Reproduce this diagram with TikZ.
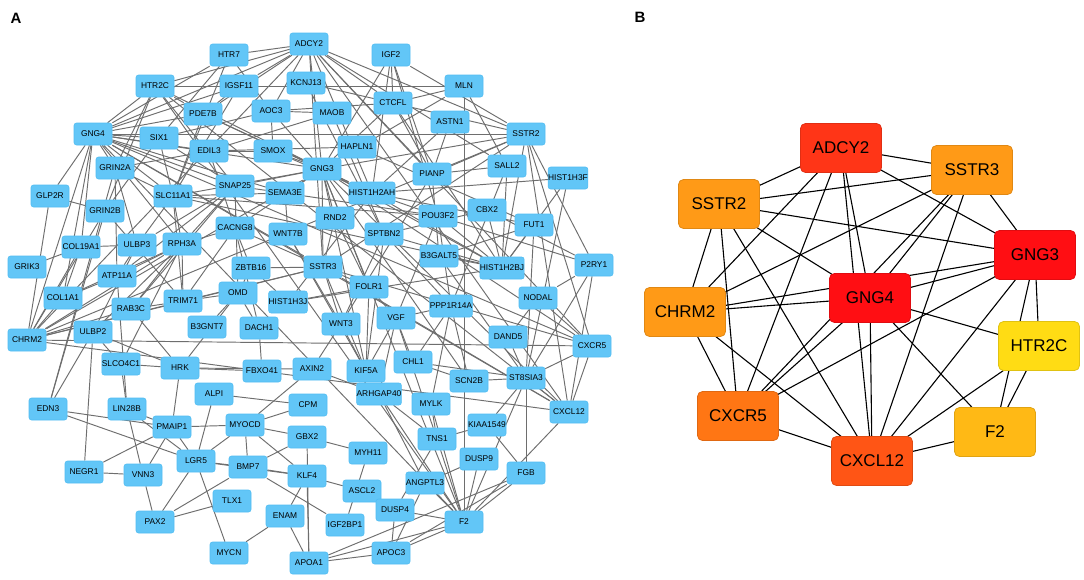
\documentclass[tikz,border=0pt]{standalone}
\usepackage{fontspec}
\setmainfont{Liberation Sans}
\pgfdeclarelayer{bg}
\pgfdeclarelayer{paper}
\pgfsetlayers{paper,bg,main}
\definecolor{anodefill}{HTML}{62C6F7}
\definecolor{anodedraw}{HTML}{52BDF2}
\definecolor{aedgecol}{HTML}{6E6E6E}
\definecolor{cA}{HTML}{FF3517}
\definecolor{cO}{HTML}{FF9A17}
\definecolor{cR}{HTML}{FF0E13}
\definecolor{cY}{HTML}{FFDC14}
\definecolor{cX}{HTML}{FF7614}
\definecolor{cF}{HTML}{FFB915}
\definecolor{cL}{HTML}{FF5515}
\tikzset{
  anode/.style={rectangle, rounded corners=2.5pt, fill=anodefill, draw=anodedraw, line width=0.6pt,
    minimum width=38pt, minimum height=22pt, inner sep=0pt, font=\fontsize{8.4}{10}\selectfont},
  bnode/.style={rectangle, rounded corners=5pt, line width=0.8pt,
    minimum width=81pt, minimum height=49pt, inner sep=0pt, font=\fontsize{17}{20}\selectfont},
  aedge/.style={draw=aedgecol, line width=0.95pt},
  bedge/.style={draw=black, line width=1.1pt},
  plabel/.style={font=\bfseries\fontsize{15}{17}\selectfont}
}
\begin{document}
\begin{tikzpicture}[x=1pt,y=-1pt]
\useasboundingbox (0,0) rectangle (1084,579);
\begin{pgfonlayer}{paper}
\fill[white] (0,0) rectangle (1084,579);
\end{pgfonlayer}
\node[plabel] (labA) at (16,18) {A};
\node[plabel] (labB) at (640,17) {B};
% ---------------- Panel A nodes
\foreach \n/\x/\y in {
HTR7/229/55, ADCY2/309/44, IGF2/391/55, HTR2C/155/86, IGSF11/239/86, KCNJ13/306/83, MLN/464/86,
PDE7B/203/114, AOC3/271/111, MAOB/332/113, CTCFL/393/103, ASTN1/450/122, SSTR2/526/134,
GNG4/93/134, SIX1/159/138, EDIL3/209/151, SMOX/273/151, HAPLN1/357/147, GNG3/322/169,
SALL2/507/166, HIST1H3F/568/178, GRIN2A/115/168, SNAP25/235/186, SEMA3E/285/193,
HIST1H2AH/372/193, PIANP/432/174, GLP2R/50/196, SLC11A1/173/196, CACNG8/235/228,
RND2/335/218, POU3F2/438/216, CBX2/487/210, FUT1/534/225, GRIN2B/105/211, WNT7B/288/234,
SPTBN2/384/234, COL19A1/81/247, ULBP3/137/245, RPH3A/182/244, B3GALT5/439/256,
HIST1H2BJ/502/268, P2RY1/594/265, GRIK3/27/267, ATP11A/117/276, ZBTB16/251/268,
SSTR3/323/267, FOLR1/369/287, COL1A1/63/298, RAB3C/131/309, TRIM71/183/301, OMD/238/293,
HIST1H3J/288/302, PPP1R14A/451/306, NODAL/538/298, B3GNT7/207/327, DACH1/259/328,
WNT3/341/324, VGF/396/318, DAND5/508/337, CHRM2/27/340, ULBP2/93/332, CXCR5/592/346,
SLCO4C1/121/364, HRK/180/368, FBXO41/262/371, AXIN2/312/369, KIF5A/366/371, CHL1/413/362,
SCN2B/469/381, ST8SIA3/526/378, EDN3/48/409, LIN28B/127/409, ALPI/214/394, CPM/308/405,
ARHGAP40/379/394, MYLK/431/404, CXCL12/569/412, PMAIP1/172/427, MYOCD/245/425,
KIAA1549/487/425, TNS1/437/439, GBX2/307/437, MYH11/368/453, NEGR1/84/472, VNN3/143/475,
LGR5/196/461, BMP7/248/467, KLF4/307/476, DUSP9/479/459, FGB/526/473, ASCL2/362/491,
ANGPTL3/425/483, TLX1/232/501, ENAM/285/516, IGF2BP1/345/525, DUSP4/395/510, PAX2/155/522,
F2/464/522, MYCN/229/553, APOA1/309/563, APOC3/391/553}
{ \node[anode] (a\n) at (\x,\y) {\n}; }
% ---------------- Panel A edges
\begin{pgfonlayer}{bg}
\foreach \u/\v in {
ADCY2/SSTR3, ADCY2/SSTR2, ADCY2/GNG3, ADCY2/GNG4, ADCY2/CXCL12, ADCY2/CHRM2, ADCY2/CXCR5,
SSTR2/SSTR3, SSTR2/GNG3, SSTR2/GNG4, SSTR2/CHRM2, SSTR2/CXCR5, SSTR2/CXCL12, SSTR3/CHRM2,
SSTR3/GNG4, SSTR3/CXCR5, SSTR3/CXCL12, SSTR3/GNG3, GNG3/GNG4, GNG3/CHRM2, GNG3/CXCR5,
GNG3/CXCL12, GNG3/HTR2C, GNG3/F2, HTR2C/F2, GNG4/HTR2C, GNG4/F2, GNG4/CXCR5, GNG4/CXCL12,
GNG4/CHRM2, CHRM2/CXCR5, CHRM2/CXCL12, CXCR5/CXCL12, CXCL12/F2, CXCL12/HTR2C,
HTR2C/MLN, HTR2C/GRIN2A, HTR2C/GRIN2B, HTR2C/PDE7B, HTR2C/SNAP25, HTR2C/ADCY2,
HTR7/ADCY2, HTR7/GNG4, HTR7/AOC3, HTR7/SIX1, HTR7/SLC11A1,
ADCY2/IGSF11, ADCY2/PDE7B, ADCY2/AOC3, ADCY2/HIST1H2AH, ADCY2/CTCFL, ADCY2/PIANP, ADCY2/SALL2,
IGF2/CTCFL, IGF2/PIANP, IGF2/SSTR2, IGF2/HIST1H2AH, IGF2/GNG3, IGF2/POU3F2,
IGSF11/GNG4, IGSF11/PDE7B, IGSF11/SLC11A1, KCNJ13/CTCFL, KCNJ13/SPTBN2,
MLN/CTCFL, MLN/SALL2, MLN/GNG3, MLN/F2,
PDE7B/GNG3, PDE7B/HIST1H2AH, PDE7B/SLC11A1, PDE7B/GNG4,
AOC3/MAOB, AOC3/SMOX, AOC3/GNG3, AOC3/CTCFL, AOC3/SIX1, MAOB/SPTBN2, MAOB/EDIL3,
CTCFL/SSTR2, CTCFL/GNG3, CTCFL/HIST1H2BJ, CTCFL/PIANP, ASTN1/PIANP, ASTN1/HIST1H2AH,
SSTR2/PIANP, SSTR2/P2RY1, SSTR2/HIST1H2BJ,
GNG4/SIX1, GNG4/EDIL3, GNG4/SLC11A1, GNG4/SNAP25, GNG4/GLP2R, GNG4/COL19A1, GNG4/GRIN2A,
GNG4/COL1A1, GNG4/SEMA3E, GNG4/RPH3A,
SIX1/SLC11A1, SIX1/GRIN2B, SIX1/SNAP25, EDIL3/SMOX, EDIL3/HAPLN1, EDIL3/GRIN2A, EDIL3/CACNG8,
SMOX/GNG3, SMOX/HIST1H2AH, HAPLN1/SEMA3E, HAPLN1/FUT1,
GNG3/SNAP25, GNG3/RND2, GNG3/HIST1H2BJ, GNG3/KIF5A, GNG3/SCN2B, GNG3/SEMA3E, GNG3/HIST1H2AH,
GNG3/SLC11A1, GNG3/CACNG8, GNG3/FOLR1,
SALL2/HIST1H2BJ, SALL2/PPP1R14A, SALL2/PIANP,
HIST1H3F/HIST1H2AH, HIST1H3F/HIST1H2BJ, HIST1H3F/ST8SIA3,
GRIN2A/SLC11A1, GRIN2A/ULBP3, GRIN2A/EDN3, GRIN2A/ATP11A,
SNAP25/RPH3A, SNAP25/CACNG8, SNAP25/ATP11A, SNAP25/RAB3C, SNAP25/ULBP3, SNAP25/SEMA3E, SNAP25/OMD,
SEMA3E/SLC11A1, SEMA3E/POU3F2, SEMA3E/WNT7B,
HIST1H2AH/HIST1H2BJ, HIST1H2AH/HIST1H3J, HIST1H2AH/POU3F2, HIST1H2AH/FUT1,
PIANP/WNT3, PIANP/B3GALT5, GLP2R/CHRM2, GLP2R/GRIN2B,
SLC11A1/ULBP3, SLC11A1/RPH3A, SLC11A1/TRIM71, SLC11A1/HIST1H2BJ, SLC11A1/POU3F2,
CACNG8/RPH3A, CACNG8/DACH1, CACNG8/SSTR3, CACNG8/TRIM71,
RND2/SSTR3, RND2/FOLR1, POU3F2/P2RY1, POU3F2/HIST1H2BJ, POU3F2/PPP1R14A, POU3F2/VGF,
CBX2/HIST1H2BJ, CBX2/P2RY1, CBX2/SPTBN2, FUT1/HIST1H2BJ, FUT1/B3GALT5, FUT1/ST8SIA3,
GRIN2B/TRIM71, GRIN2B/EDN3, GRIN2B/CHRM2, WNT7B/WNT3, WNT7B/KIF5A,
SPTBN2/KIF5A, SPTBN2/PPP1R14A, SPTBN2/WNT3, SPTBN2/HIST1H2BJ,
COL19A1/GRIK3, COL19A1/COL1A1, COL19A1/CHRM2, COL19A1/ULBP3,
ULBP3/ULBP2, ULBP3/ATP11A,
RPH3A/RAB3C, RPH3A/ATP11A, RPH3A/ULBP2, RPH3A/SLCO4C1, RPH3A/CHRM2, RPH3A/TRIM71,
B3GALT5/HIST1H2BJ, B3GALT5/ST8SIA3, HIST1H2BJ/HIST1H3J,
P2RY1/CXCL12, P2RY1/ST8SIA3, P2RY1/NODAL, ATP11A/LIN28B, ATP11A/COL1A1,
ZBTB16/SSTR3, ZBTB16/CACNG8, ZBTB16/HIST1H3J,
SSTR3/TRIM71, SSTR3/WNT3, SSTR3/FOLR1, SSTR3/KIF5A,
FOLR1/HIST1H3J, FOLR1/KIF5A, FOLR1/VGF, COL1A1/CHRM2, COL1A1/RPH3A,
RAB3C/CHRM2, RAB3C/TRIM71, RAB3C/HRK, TRIM71/OMD, TRIM71/CHRM2,
OMD/DACH1, OMD/B3GNT7, OMD/ZBTB16, OMD/HRK,
PPP1R14A/VGF, PPP1R14A/SCN2B, PPP1R14A/MYLK, PPP1R14A/CHL1, NODAL/DAND5, NODAL/CXCR5,
DACH1/FBXO41, WNT3/AXIN2, WNT3/KIF5A, VGF/CHL1, VGF/KIF5A, VGF/ARHGAP40, VGF/TNS1,
DAND5/ST8SIA3, ULBP2/HRK, ULBP2/SLCO4C1, ULBP2/NEGR1, ULBP2/EDN3, CXCR5/ST8SIA3,
SLCO4C1/HRK, SLCO4C1/LIN28B, HRK/AXIN2, HRK/PMAIP1, HRK/FBXO41,
AXIN2/ARHGAP40, AXIN2/MYOCD, CHL1/ST8SIA3, CHL1/SCN2B, SCN2B/ST8SIA3,
ST8SIA3/CXCL12, ST8SIA3/FGB, ST8SIA3/F2, ST8SIA3/KIAA1549,
EDN3/PMAIP1, EDN3/LGR5, LIN28B/VNN3, LIN28B/PMAIP1, LIN28B/LGR5,
ALPI/CPM, ALPI/LGR5, CPM/MYOCD, ARHGAP40/TNS1, ARHGAP40/ANGPTL3, ARHGAP40/F2,
MYLK/TNS1, MYLK/F2, PMAIP1/NEGR1, PMAIP1/VNN3, PMAIP1/MYOCD, PMAIP1/LGR5,
MYOCD/GBX2, MYOCD/BMP7, MYOCD/KLF4, MYOCD/LGR5, KIAA1549/TNS1, KIAA1549/FGB,
TNS1/F2, TNS1/DUSP4, GBX2/BMP7, GBX2/MYH11, MYH11/IGF2BP1, NEGR1/VNN3, VNN3/PAX2,
LGR5/BMP7, LGR5/MYCN, LGR5/KLF4, BMP7/KLF4, BMP7/PAX2, BMP7/IGF2BP1,
KLF4/ENAM, KLF4/ASCL2, KLF4/APOA1, DUSP9/F2, DUSP9/ANGPTL3,
FGB/F2, FGB/APOC3, FGB/APOA1, ASCL2/DUSP4, ANGPTL3/F2, ANGPTL3/APOC3,
TLX1/PAX2, ENAM/APOA1, ENAM/MYCN, DUSP4/F2, DUSP4/APOC3, PAX2/LGR5,
F2/APOC3, F2/APOA1, APOA1/APOC3, APOA1/GBX2}
{ \draw[aedge] (a\u) -- (a\v); }
\end{pgfonlayer}
% ---------------- Panel B nodes
\foreach \n/\x/\y/\c in {
ADCY2/841/148/cA, SSTR3/972/170/cO, SSTR2/719/204/cO, GNG3/1035/255/cR, GNG4/870/298/cR,
CHRM2/685/312/cO, HTR2C/1039/346/cY, CXCR5/738/416/cX, F2/995/432/cF, CXCL12/872/461/cL}
{ \node[bnode, fill=\c, draw=\c!88!black] (b\n) at (\x,\y) {\n}; }
\begin{pgfonlayer}{bg}
\foreach \u/\v in {
ADCY2/SSTR3, ADCY2/SSTR2, ADCY2/GNG3, ADCY2/GNG4, ADCY2/CXCL12, ADCY2/CHRM2, ADCY2/CXCR5,
SSTR2/SSTR3, SSTR2/GNG3, SSTR2/GNG4, SSTR2/CHRM2, SSTR2/CXCR5, SSTR2/CXCL12, SSTR3/CHRM2,
SSTR3/GNG4, SSTR3/CXCR5, SSTR3/CXCL12, SSTR3/GNG3, GNG3/GNG4, GNG3/CHRM2, GNG3/CXCR5,
GNG3/CXCL12, GNG3/HTR2C, GNG3/F2, HTR2C/F2, GNG4/HTR2C, GNG4/F2, GNG4/CXCR5, GNG4/CXCL12,
GNG4/CHRM2, CHRM2/CXCR5, CHRM2/CXCL12, CXCR5/CXCL12, CXCL12/F2, CXCL12/HTR2C}
{ \draw[bedge] (b\u.center) -- (b\v.center); }
\end{pgfonlayer}
\end{tikzpicture}
\end{document}
